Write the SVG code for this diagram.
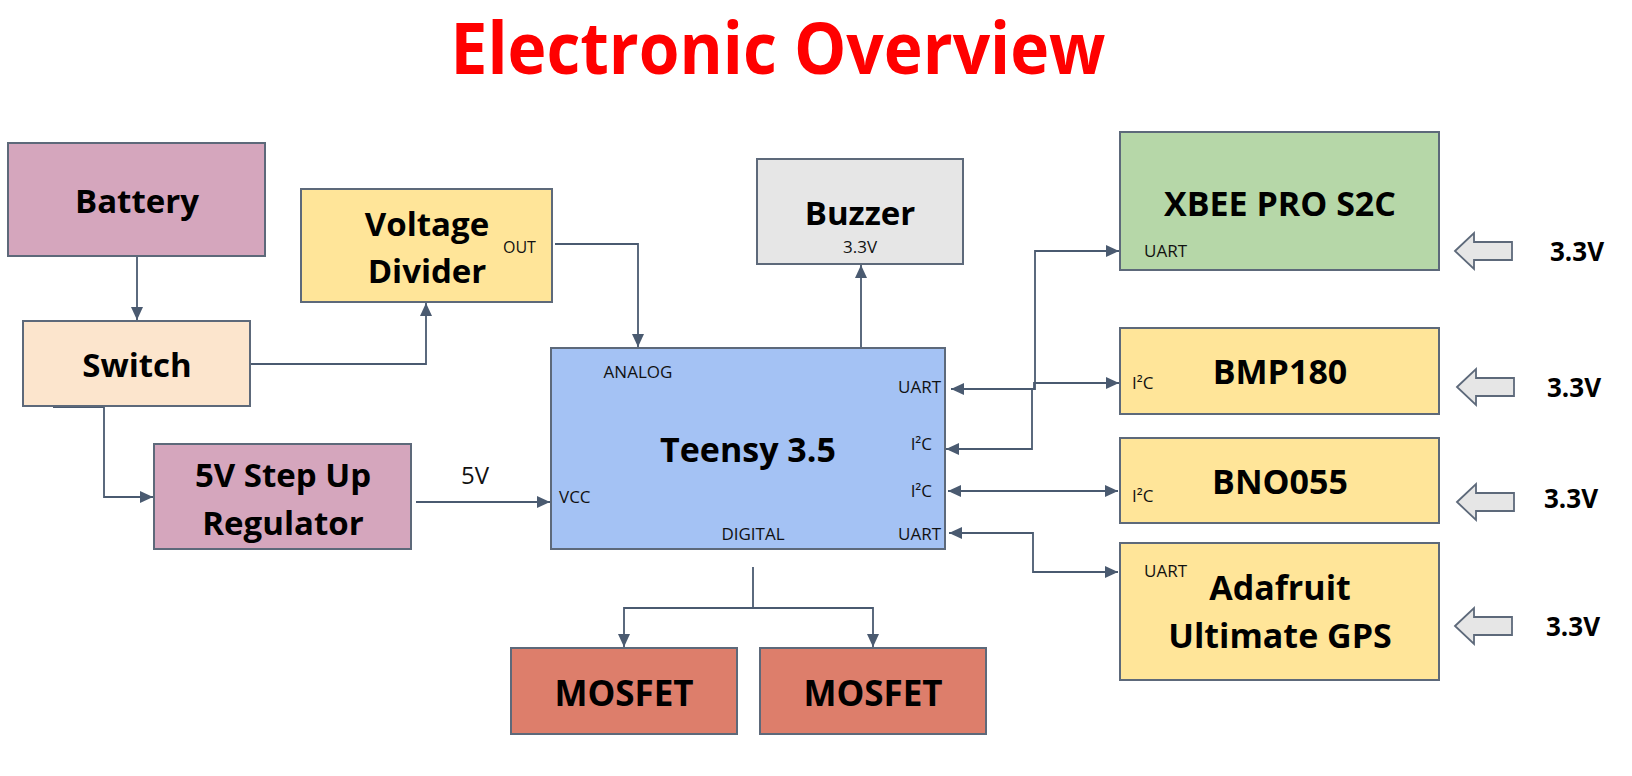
<svg xmlns="http://www.w3.org/2000/svg" width="1632" height="776" viewBox="0 0 1632 776">
<style>
  .box{stroke:#5d697a;stroke-width:2}
  .lbl{font-family:"Open Sans","Liberation Sans",sans-serif;font-weight:700;font-size:33px;fill:#000;text-anchor:middle}
  .big{font-size:34px}
  .mos{font-size:35px}
  .sm{font-family:"Open Sans","Liberation Sans",sans-serif;font-size:17px;fill:#111}
  .pw{font-family:"Open Sans","Liberation Sans",sans-serif;font-weight:700;font-size:26px;fill:#000}
  .con{fill:none;stroke:#4a5a70;stroke-width:1.8}
  .blk{fill:#e6e6e6;stroke:#5d697a;stroke-width:1.8}
</style>
<defs>
  <marker id="ah" viewBox="0 0 13 12" refX="13" refY="6" markerWidth="13" markerHeight="12" markerUnits="userSpaceOnUse" orient="auto-start-reverse">
    <path d="M0,0 L13,6 L0,12 Z" fill="#4a5a70"/>
  </marker>
  <path id="blockArrow" d="M0,0 L19,-18 V-9 H57 V9 H19 V18 Z"/>
</defs>
<rect width="1632" height="776" fill="#fff"/>

<text x="778" y="74" font-family="'Open Sans','Liberation Sans',sans-serif" font-weight="700" font-size="71" fill="#ff0000" text-anchor="middle" textLength="655" lengthAdjust="spacingAndGlyphs">Electronic Overview</text>

<g id="connectors">
  <path class="con" d="M137,256 V320" marker-end="url(#ah)"/>
  <path class="con" d="M250,364 H426 V303" marker-end="url(#ah)"/>
  <path class="con" d="M53,407 H104 V497 H153" marker-end="url(#ah)"/>
  <path class="con" d="M555,244 H638 V347" marker-end="url(#ah)"/>
  <path class="con" d="M416,502 H550" marker-end="url(#ah)"/>
  <path class="con" d="M861,348 V265" marker-end="url(#ah)"/>
  <path class="con" d="M951,389 H1034 V383 H1119" marker-start="url(#ah)" marker-end="url(#ah)"/>
  <path class="con" d="M946,449 H1032 V389 H1035 V251 H1119" marker-start="url(#ah)" marker-end="url(#ah)"/>
  <path class="con" d="M948,491 H1118" marker-start="url(#ah)" marker-end="url(#ah)"/>
  <path class="con" d="M949,533 H1033 V572 H1118" marker-start="url(#ah)" marker-end="url(#ah)"/>
  <path class="con" d="M753,567 V608"/>
  <path class="con" d="M753,608 H624 V647" marker-end="url(#ah)"/>
  <path class="con" d="M753,608 H873 V647" marker-end="url(#ah)"/>
</g>

<g id="battery">
  <rect class="box" x="8" y="143" width="257" height="113" fill="#d5a6bd"/>
  <text class="lbl" x="137" y="213">Battery</text>
</g>
<g id="switch">
  <rect class="box" x="23" y="321" width="227" height="85" fill="#fce5cd"/>
  <text class="lbl" x="137" y="377">Switch</text>
</g>
<g id="voltage-divider">
  <rect class="box" x="301" y="189" width="251" height="113" fill="#ffe599"/>
  <text class="lbl" x="427" y="236">Voltage</text>
  <text class="lbl" x="427" y="283">Divider</text>
  <text class="sm" x="503" y="253" style="font-size:16px">OUT</text>
</g>
<g id="regulator">
  <rect class="box" x="154" y="444" width="257" height="105" fill="#d5a6bd"/>
  <text class="lbl" x="283" y="487">5V Step Up</text>
  <text class="lbl" x="283" y="535">Regulator</text>
</g>
<text class="sm" x="475" y="484" style="font-size:24px" text-anchor="middle">5V</text>
<g id="teensy">
  <rect class="box" x="551" y="348" width="394" height="201" fill="#a4c2f4"/>
  <text class="lbl big" x="748" y="462">Teensy 3.5</text>
  <text class="sm" x="638" y="378" text-anchor="middle">ANALOG</text>
  <text class="sm" x="559" y="503">VCC</text>
  <text class="sm" x="753" y="540" text-anchor="middle">DIGITAL</text>
  <text class="sm" x="941" y="393" text-anchor="end">UART</text>
  <text class="sm" x="932" y="450" text-anchor="end">I²C</text>
  <text class="sm" x="932" y="497" text-anchor="end">I²C</text>
  <text class="sm" x="941" y="540" text-anchor="end">UART</text>
</g>
<g id="buzzer">
  <rect class="box" x="757" y="159" width="206" height="105" fill="#e6e6e6"/>
  <text class="lbl" x="860" y="225">Buzzer</text>
  <text class="sm" x="860" y="253" text-anchor="middle">3.3V</text>
</g>
<g id="xbee">
  <rect class="box" x="1120" y="132" width="319" height="138" fill="#b6d7a8"/>
  <text class="lbl big" x="1280" y="216">XBEE PRO S2C</text>
  <text class="sm" x="1144" y="257">UART</text>
</g>
<g id="bmp180">
  <rect class="box" x="1120" y="328" width="319" height="86" fill="#ffe599"/>
  <text class="lbl big" x="1280" y="384">BMP180</text>
  <text class="sm" x="1132" y="389">I²C</text>
</g>
<g id="bno055">
  <rect class="box" x="1120" y="438" width="319" height="85" fill="#ffe599"/>
  <text class="lbl big" x="1280" y="494">BNO055</text>
  <text class="sm" x="1132" y="502">I²C</text>
</g>
<g id="gps">
  <rect class="box" x="1120" y="543" width="319" height="137" fill="#ffe599"/>
  <text class="sm" x="1144" y="577">UART</text>
  <text class="lbl big" x="1280" y="600">Adafruit</text>
  <text class="lbl big" x="1280" y="648">Ultimate GPS</text>
</g>
<g id="mosfet-1">
  <rect class="box" x="511" y="648" width="226" height="86" fill="#dd7e6b"/>
  <text class="lbl mos" x="624" y="706">MOSFET</text>
</g>
<g id="mosfet-2">
  <rect class="box" x="760" y="648" width="226" height="86" fill="#dd7e6b"/>
  <text class="lbl mos" x="873" y="706">MOSFET</text>
</g>

<g id="power-xbee">
  <use href="#blockArrow" class="blk" transform="translate(1455,251)"/>
  <text class="pw" x="1550" y="261">3.3V</text>
</g>
<g id="power-bmp">
  <use href="#blockArrow" class="blk" transform="translate(1457,387)"/>
  <text class="pw" x="1547" y="397">3.3V</text>
</g>
<g id="power-bno">
  <use href="#blockArrow" class="blk" transform="translate(1457,502)"/>
  <text class="pw" x="1544" y="508">3.3V</text>
</g>
<g id="power-gps">
  <use href="#blockArrow" class="blk" transform="translate(1455,626)"/>
  <text class="pw" x="1546" y="636">3.3V</text>
</g>
</svg>
